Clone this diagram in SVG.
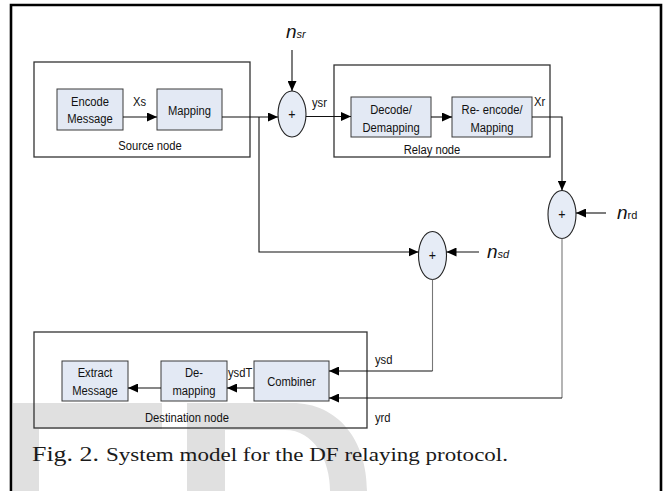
<svg xmlns="http://www.w3.org/2000/svg" width="665" height="491" viewBox="0 0 665 491">
<style>
.t{font-family:"Liberation Sans",Arial,sans-serif;font-size:13.5px;fill:#111;text-anchor:middle;transform-box:fill-box;transform-origin:center;transform:scaleX(0.83)}
.l{font-family:"Liberation Sans",Arial,sans-serif;font-size:13.5px;fill:#111;transform-box:fill-box;transform-origin:left;transform:scaleX(0.83)}
.n{font-family:"Liberation Sans",Arial,sans-serif;font-style:italic;fill:#111}
.box{fill:#e3e9f4;stroke:#3a3a3a;stroke-width:1}
.grp{fill:none;stroke:#333;stroke-width:1.3}
.sum{fill:#e6ecf6;stroke:#222;stroke-width:1.1}
.c{fill:none;stroke:#111;stroke-width:1.1}
.g{fill:none;stroke:#777;stroke-width:1.1}
.a{marker-end:url(#ah)}
.cap{font-family:"Liberation Serif",serif;fill:#1a1a1a}
</style>
<defs>
<marker id="ah" markerUnits="userSpaceOnUse" markerWidth="11" markerHeight="9" refX="10" refY="4.5" orient="auto">
<path d="M0,0 L10,4.5 L0,9 z" fill="#000"/>
</marker>
</defs>
<rect width="665" height="491" fill="#fff"/>
<g id="watermark" fill="#e0e0e0">
<path d="M13,403 H162 V429 H39 V491 H13 Z"/>
<path fill-rule="evenodd" d="M187,403 H292 C338,403 367,440 367,491 H187 Z M225,430 H285 C314,430 330,460 330,491 H225 Z"/>
</g>
<path d="M11,491 V5 H661 V491" fill="none" stroke="#000" stroke-width="2.6"/>

<g id="source-node">
<rect class="grp" x="34" y="62" width="216" height="95"/>
<text class="t" x="150" y="150">Source node</text>
</g>
<g id="encode-message">
<rect class="box" x="57" y="89" width="66" height="41"/>
<text class="t" x="90" y="106">Encode</text>
<text class="t" x="90" y="123">Message</text>
</g>
<g id="mapping">
<rect class="box" x="157" y="89" width="65" height="41"/>
<text class="t" x="189.5" y="115">Mapping</text>
</g>
<g id="relay-node">
<rect class="grp" x="334" y="65" width="216" height="92"/>
<text class="t" x="432" y="154">Relay node</text>
</g>
<g id="decode-demapping">
<rect class="box" x="351" y="97" width="80" height="40"/>
<text class="t" x="391" y="114">Decode/</text>
<text class="t" x="391" y="132">Demapping</text>
</g>
<g id="reencode-mapping">
<rect class="box" x="452" y="97" width="80" height="40"/>
<text class="t" x="492" y="114">Re- encode/</text>
<text class="t" x="492" y="132">Mapping</text>
</g>
<g id="sum-sr">
<ellipse class="sum" cx="292" cy="114" rx="14" ry="23"/>
<text class="t" x="292" y="119" style="font-size:15px">+</text>
</g>
<g id="sum-rd">
<ellipse class="sum" cx="562" cy="214.5" rx="14" ry="24"/>
<text class="t" x="562" y="219.5" style="font-size:15px">+</text>
</g>
<g id="sum-sd">
<ellipse class="sum" cx="432.5" cy="255.5" rx="14" ry="24"/>
<text class="t" x="432.5" y="260.5" style="font-size:15px">+</text>
</g>
<g id="destination-node">
<rect class="grp" x="34" y="332" width="333" height="96"/>
<text class="t" x="187" y="422">Destination node</text>
</g>
<g id="extract-message">
<rect class="box" x="62" y="361" width="66" height="40"/>
<text class="t" x="95" y="377">Extract</text>
<text class="t" x="95" y="395">Message</text>
</g>
<g id="de-mapping">
<rect class="box" x="161" y="361" width="66" height="40"/>
<text class="t" x="194" y="377">De-</text>
<text class="t" x="194" y="395">mapping</text>
</g>
<g id="combiner">
<rect class="box" x="254" y="361" width="75" height="40"/>
<text class="t" x="291.5" y="386">Combiner</text>
</g>

<g id="connectors">
<path class="c a" d="M123,117 H157"/>
<path class="c a" d="M222,117 H278"/>
<path class="c a" d="M259,117 V252 H418.5"/>
<path class="c a" d="M292,50 V91"/>
<path class="c a" d="M306,116.5 H351"/>
<path class="c a" d="M431,117 H452"/>
<path class="c a" d="M532,117 H562 V190.5"/>
<path class="c a" d="M606,213 H576"/>
<path class="c a" d="M479,252 H446.5"/>
<path class="g" d="M432.5,279.5 V371"/>
<path class="c a" d="M432.5,371 H329"/>
<path class="g" d="M562,238.5 V398"/>
<path class="c a" d="M562,398 H329"/>
<path class="c a" d="M254,388 H227"/>
<path class="c a" d="M161,388 H128"/>
</g>

<g id="labels">
<text class="l" x="133" y="106">Xs</text>
<text class="l" x="312" y="107">ysr</text>
<text class="l" x="534" y="106">Xr</text>
<text class="l" x="228" y="377">ysdT</text>
<text class="l" x="375" y="364">ysd</text>
<text class="l" x="375" y="422">yrd</text>
<text class="n" x="286" y="38" style="font-size:19px">n<tspan style="font-size:11px">sr</tspan></text>
<text class="n" x="487" y="258" style="font-size:19px">n<tspan style="font-size:11px">sd</tspan></text>
<text class="n" x="617" y="219" style="font-size:19px">n<tspan style="font-size:11px;font-style:normal">rd</tspan></text>
</g>

<g id="caption">
<text class="cap" x="32" y="461" textLength="67" lengthAdjust="spacingAndGlyphs" style="font-size:20px">Fig. 2.</text>
<text class="cap" x="106" y="461" textLength="402" lengthAdjust="spacingAndGlyphs" style="font-size:18px">System model for the DF relaying protocol.</text>
</g>
</svg>
